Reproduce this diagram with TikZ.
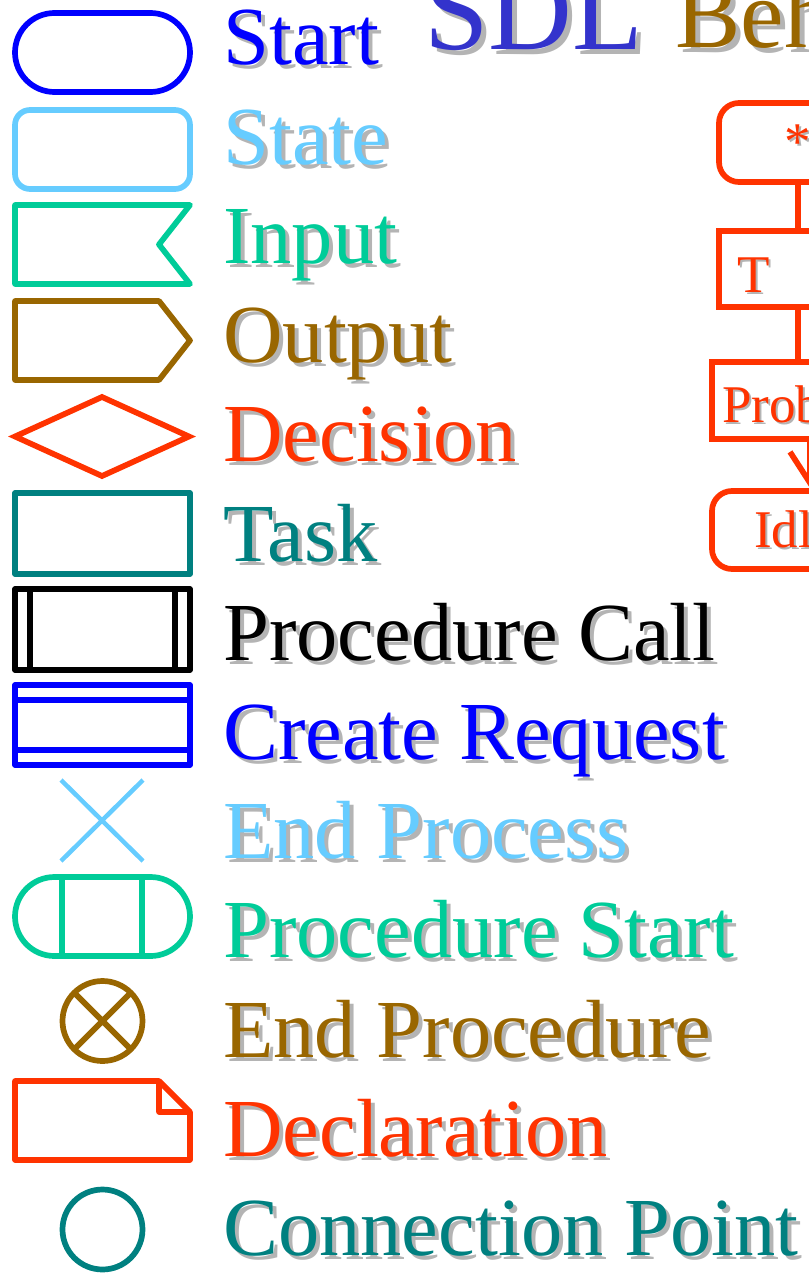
\documentclass[tikz,border=0pt]{standalone}
\usepackage{fontspec}
\setmainfont{Liberation Serif}
\usetikzlibrary{arrows.meta}

\definecolor{cBlue}{HTML}{0000FF}
\definecolor{cSky}{HTML}{66CCFF}
\definecolor{cMint}{HTML}{00CC99}
\definecolor{cBrown}{HTML}{996600}
\definecolor{cRed}{HTML}{FF3300}
\definecolor{cTeal}{HTML}{008080}
\definecolor{cTitle}{HTML}{3333CC}
\definecolor{shadowgray}{HTML}{B4B4B4}

% text with a grey drop shadow: [style]{name}{position}{offset}{colour}{text}
\newcommand\shlabel[6][]{%
  \node[lbl,#1,text=shadowgray,xshift=#4,yshift=-#4] (#2-sh) at #3 {#6};
  \node[lbl,#1,text=#5] (#2) at #3 {#6};}

\tikzset{
  lbl/.style={anchor=base west, inner sep=0pt, font=\fontsize{82.5}{90}\selectfont},
  ftext/.style={font=\fontsize{53}{60}\selectfont},
  sym/.style={line width=5.7pt, line join=round},
  flowbox/.style={draw=cRed, line width=5.7pt, rectangle, inner sep=0pt},
  flowline/.style={draw=cRed, line width=5.7pt},
}

\begin{document}
\begin{tikzpicture}[x=1pt,y=-1pt]
\useasboundingbox (0,0) rectangle (808,1273);

% ---- legend symbols ----
% start
\draw[sym, cBlue, rounded corners=39.5pt] (15,13) rectangle (190,92);
% state
\draw[sym, cSky, rounded corners=15pt] (15,110) rectangle (190,189);
% input
\draw[sym, cMint] (15,205) -- (190,205) -- (159,244.5) -- (190,284) -- (15,284) -- cycle;
% output
\draw[sym, cBrown] (15,301) -- (159,301) -- (190,340.5) -- (159,380) -- (15,380) -- cycle;
% decision
\draw[sym, cRed, line join=miter] (15,436.5) -- (102,397) -- (189,436.5) -- (102,476) -- cycle;
% task
\draw[sym, cTeal] (15,493) rectangle (190,574);
% procedure call
\draw[sym, black] (15,589) rectangle (190,670) (30,589) -- (30,670) (175,589) -- (175,670);
% create request
\draw[sym, cBlue] (15,685) rectangle (190,765) (15,700) -- (190,700) (15,750) -- (190,750);
% end process
\draw[cSky, line width=4.5pt] (61,780) -- (143,861) (143,780) -- (61,861);
% procedure start
\draw[sym, cMint, rounded corners=39.5pt] (15,877) rectangle (190,956);
\draw[sym, cMint] (62,877) -- (62,956) (142,877) -- (142,956);
% end procedure
\draw[sym, cBrown] (102.5,1021) circle[radius=40pt]
  (74.2,992.7) -- (130.8,1049.3) (130.8,992.7) -- (74.2,1049.3);
% declaration
\draw[sym, cRed] (15,1081) -- (159,1081) -- (190,1112) -- (190,1160) -- (15,1160) -- cycle
  (159,1081) -- (159,1112) -- (190,1112);
% connection point
\draw[sym, cTeal] (102.5,1229.5) circle[radius=40pt];

% ---- legend labels ----
\shlabel{lStart}{(223,65)}{4pt}{cBlue}{Start}
\shlabel{lState}{(223,164.2)}{4pt}{cSky}{State}
\shlabel{lInput}{(223,263.4)}{4pt}{cMint}{Input}
\shlabel{lOutput}{(223,362.6)}{4pt}{cBrown}{Output}
\shlabel{lDecision}{(223,461.8)}{4pt}{cRed}{Decision}
\shlabel{lTask}{(223,561)}{4pt}{cTeal}{Task}
\shlabel{lCall}{(223,660.2)}{4pt}{black}{Procedure Call}
\shlabel{lCreate}{(223,759.4)}{4pt}{cBlue}{Create Request}
\shlabel{lEndP}{(223,858.6)}{4pt}{cSky}{End Process}
\shlabel{lPStart}{(223,957.8)}{4pt}{cMint}{Procedure Start}
\shlabel{lEndProc}{(223,1057)}{4pt}{cBrown}{End Procedure}
\shlabel{lDecl}{(223,1156.2)}{4pt}{cRed}{Declaration}
\shlabel{lConn}{(223,1255.4)}{4pt}{cTeal}{Connection Point}

% ---- title ----
\shlabel[font=\fontsize{116}{120}\selectfont]{tSDL}{(424,50)}{5pt}{cTitle}{SDL}
\shlabel[font=\fontsize{98}{110}\selectfont]{tBeh}{(675,48)}{5pt}{cBrown}{Beh}

% ---- example flow ----
\node[flowbox, rounded corners=20pt, minimum width=158pt, minimum height=79pt] (star) at (798,142.5) {};
\node[flowbox, minimum width=158pt, minimum height=76pt] (timer) at (798,269) {};
\node[flowbox, minimum width=172pt, minimum height=77pt] (prob) at (798,400.5) {};
\node[flowbox, rounded corners=20pt, minimum width=172pt, minimum height=78pt] (idle) at (798,530) {};

\draw[flowline] (star) -- (timer);
\draw[flowline] (timer) -- (prob);
\coordinate (tipx) at (810,0);
\draw[flowline, -{Straight Barb[length=31pt,width=40pt]}] (prob.south -| tipx) -- (idle.north -| tipx);

\shlabel[ftext]{xStar}{(784,160)}{2pt}{cRed}{*}
\shlabel[ftext]{xT}{(737,292)}{2pt}{cRed}{T}
\shlabel[ftext]{xProb}{(722,422)}{2pt}{cRed}{Prob}
\shlabel[ftext]{xIdle}{(754,547)}{2pt}{cRed}{Idl}
\end{tikzpicture}
\end{document}
